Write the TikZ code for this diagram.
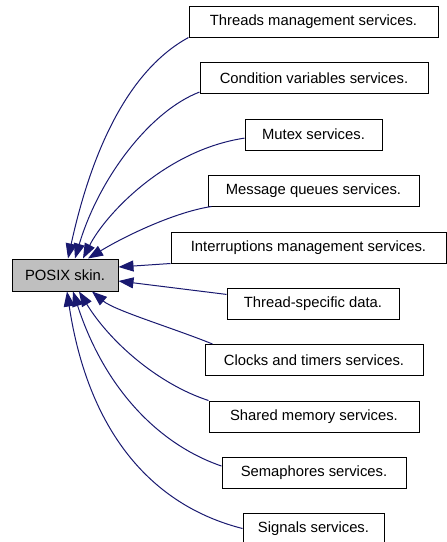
\documentclass[tikz,border=0pt]{standalone}
\usepackage{fontspec}
\setmainfont{Liberation Sans}
\usepackage{tikz}
\usetikzlibrary{arrows.meta}
\definecolor{edgeblue}{RGB}{25, 25, 112}
\definecolor{gray75}{gray}{0.75}

\begin{document}
\begin{tikzpicture}[x=1pt, y=-1pt,
    box/.style={draw=black, line width=1pt, minimum height=31pt, inner sep=0pt, font=\fontsize{14.8}{17}\selectfont},
    link/.style={draw=edgeblue, line width=1pt, -{Triangle[length=15pt, width=11pt]}}]
  \useasboundingbox (0, 0) rectangle (447, 542);
  \node[box, fill=gray75, minimum width=106pt, minimum height=32pt] (skin) at (65, 275) {POSIX skin.};
  \node[box, minimum width=249pt] (threads) at (313.5, 21.5) {Threads management services.};
  \node[box, minimum width=228pt] (condvars) at (314, 78) {Condition variables services.};
  \node[box, minimum width=137pt] (mutex) at (313.5, 134.5) {Mutex services.};
  \node[box, minimum width=211pt] (mqueues) at (313.5, 190.5) {Message queues services.};
  \node[box, minimum width=275pt] (intr) at (308.5, 247.5) {Interruptions management services.};
  \node[box, minimum width=172pt] (tsd) at (313, 303.5) {Thread-specific data.};
  \node[box, minimum width=218pt] (clocks) at (314, 360) {Clocks and timers services.};
  \node[box, minimum width=210pt] (shm) at (314, 416.5) {Shared memory services.};
  \node[box, minimum width=184pt] (sem) at (314, 472.5) {Semaphores services.};
  \node[box, minimum width=141pt] (signals) at (313.5, 528.5) {Signals services.};
  \draw[link] (threads.south west) .. controls (129, 70) and (92, 149) .. ([xshift=3pt]skin.north);
  \draw[link] (condvars.187) .. controls (150, 111) and (99, 178) .. ([xshift=10pt]skin.north);
  \draw[link] (mutex.183) .. controls (165, 150) and (105, 215) .. ([xshift=18pt]skin.north);
  \draw[link] ([xshift=4pt]mqueues.south west) .. controls (175, 212) and (125, 236) .. ([xshift=23pt]skin.north);
  \draw[link] (intr.south west) -- ([yshift=8pt]skin.east);
  \draw[link] (tsd.174) -- ([yshift=-6pt]skin.east);
  \draw[link] ([xshift=8pt]clocks.north west) .. controls (173, 328) and (114.5, 310.5) .. ([xshift=27pt]skin.south);
  \draw[link] (shm.north west) .. controls (158, 384) and (110, 342) .. ([xshift=14pt]skin.south);
  \draw[link] (sem.176) .. controls (160, 445) and (105, 390) .. ([xshift=8pt]skin.south);
  \draw[link] (signals.west) .. controls (150, 505) and (88, 430) .. ([xshift=2pt]skin.south);
\end{tikzpicture}
\end{document}
